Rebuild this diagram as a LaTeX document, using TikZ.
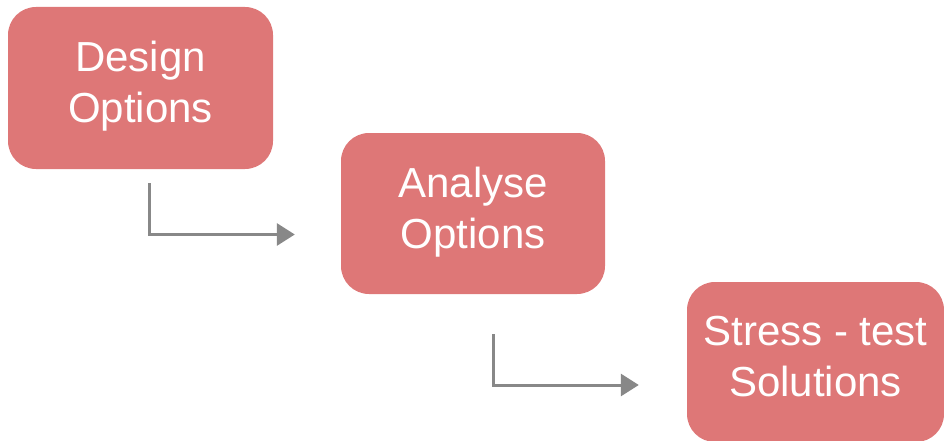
\documentclass[tikz,border=0pt]{standalone}
\usepackage{fontspec}
\setmainfont{Liberation Sans}
\usetikzlibrary{arrows.meta,calc}
\definecolor{boxfill}{HTML}{DE7777}
\definecolor{linkgray}{HTML}{888888}
\begin{document}
\begin{tikzpicture}[x=1pt,y=-1pt,
  stepbox/.style={fill=boxfill, draw=none, rounded corners=28pt,
    text=white, align=center, inner sep=0pt, text depth=12pt,
    font=\fontsize{42}{51}\selectfont},
  flow/.style={draw=linkgray, line width=3pt,
    -{Triangle[length=18pt,width=22pt]}}]
\useasboundingbox (0,0) rectangle (944,441);
% the three stages
\node[stepbox, minimum width=265pt, minimum height=162pt] (design) at (140.5,88) {Design\\Options};
\node[stepbox, minimum width=264pt, minimum height=161pt] (analyse) at (473,213.5) {Analyse\\Options};
\node[stepbox, minimum width=257pt, minimum height=160pt] (stress) at (815.5,362) {Stress - test\\Solutions};
% elbow connectors between stages
\coordinate (s1) at ($(design.south)+(8.5,14)$);
\coordinate (e1) at ($(analyse.west)+(-46,21)$);
\draw[flow] (s1) |- (e1);
\coordinate (s2) at ($(analyse.south)+(20,40)$);
\coordinate (e2) at ($(stress.west)+(-48,23)$);
\draw[flow] (s2) |- (e2);
\end{tikzpicture}
\end{document}
